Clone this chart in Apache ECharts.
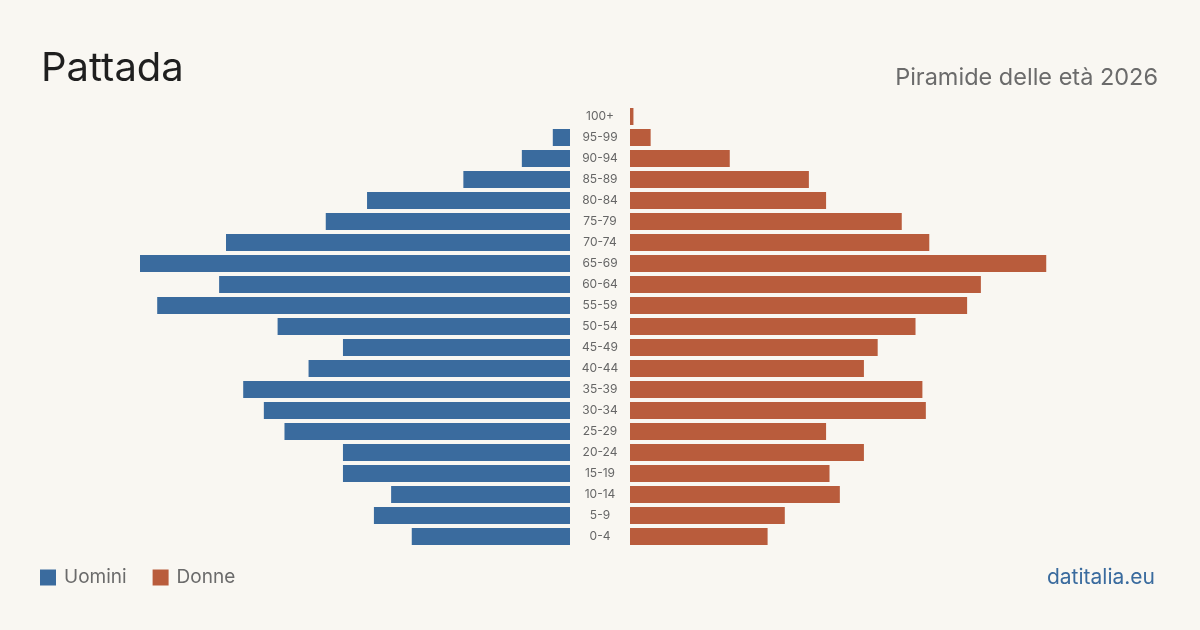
<!DOCTYPE html>
<html><head><meta charset="utf-8">
<script src="https://cdn.jsdelivr.net/npm/echarts@6/dist/echarts.min.js"></script>
<style>html,body{margin:0;padding:0;background:#f9f7f2;}#c{width:1200px;height:630px;}</style>
</head><body><div id="c"></div>
<script>
const ageGroups = ['0-4','5-9','10-14','15-19','20-24','25-29','30-34','35-39','40-44','45-49','50-54','55-59','60-64','65-69','70-74','75-79','80-84','85-89','90-94','95-99','100+'];
const men   = [46,57,52,66,66,83,89,95,76,66,85,120,102,125,100,71,59,31,14,5,0];
const women = [40,45,61,58,68,57,86,85,68,72,83,98,102,121,87,79,57,52,29,6,1];
const maxVal = 125;
const font = 'Inter, "Noto Sans", sans-serif';
const chart = echarts.init(document.getElementById('c'));
chart.setOption({
  backgroundColor: '#f9f7f2',
  animation: false,
  textStyle: {fontFamily: font},
  title: [
    {text: 'Pattada', left: 36, top: 44, textStyle: {fontSize: 40, fontWeight: 'normal', color: '#1f1f1f', fontFamily: font}},
    {text: 'Piramide delle età 2026', right: 37, top: 61, textStyle: {fontSize: 23.5, fontWeight: 'normal', color: '#6b6b6b', fontFamily: font}},
    {text: 'datitalia.eu', right: 40, top: 562, textStyle: {fontSize: 21, fontWeight: 'normal', color: '#3a6b9e', fontFamily: font}}
  ],
  legend: {
    left: 35, top: 563, itemWidth: 16, itemHeight: 16, itemGap: 26,
    icon: 'rect',
    textStyle: {fontSize: 19, color: '#6b6b6b', fontFamily: font, padding: [0, 0, 0, 3]},
    data: ['Uomini', 'Donne']
  },
  grid: [
    {left: 140, width: 430, top: 106, height: 441},
    {left: 630, width: 430, top: 106, height: 441}
  ],
  xAxis: [
    {gridIndex: 0, type: 'value', min: 0, max: maxVal, inverse: true, show: false},
    {gridIndex: 1, type: 'value', min: 0, max: maxVal, show: false}
  ],
  yAxis: [
    {gridIndex: 0, type: 'category', data: ageGroups, position: 'right',
     axisLine: {show: false}, axisTick: {show: false}, splitLine: {show: false},
     axisLabel: {show: true, align: 'center', margin: 30, fontSize: 12, color: '#666', fontFamily: font, padding: [2, 0, 0, 0]}},
    {gridIndex: 1, type: 'category', data: ageGroups, show: false}
  ],
  series: [
    {name: 'Uomini', type: 'bar', xAxisIndex: 0, yAxisIndex: 0, data: men,
     barCategoryGap: '19%', itemStyle: {color: '#3a6b9e'}},
    {name: 'Donne', type: 'bar', xAxisIndex: 1, yAxisIndex: 1, data: women,
     barCategoryGap: '19%', itemStyle: {color: '#b95c3c'}}
  ]
});
</script></body></html>
